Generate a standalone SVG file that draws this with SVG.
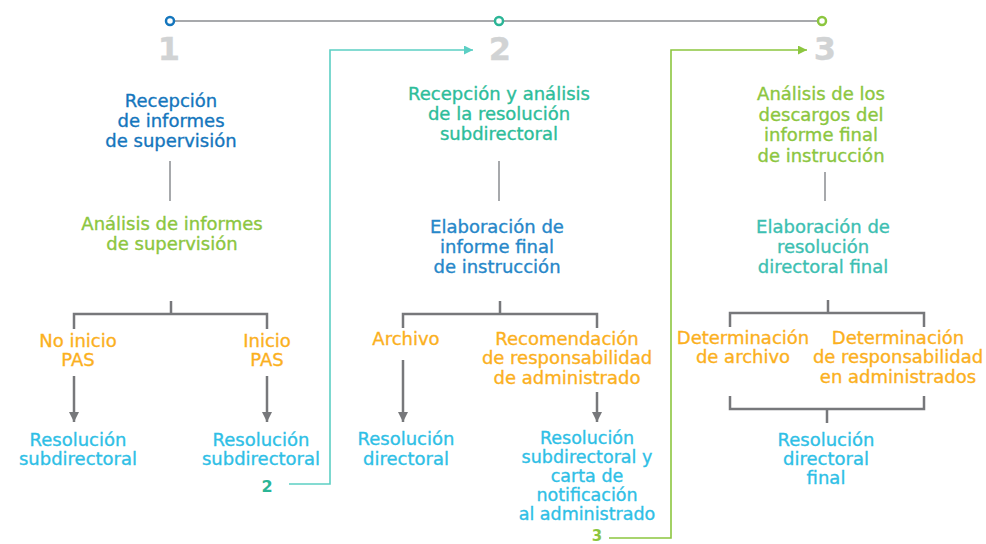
<svg xmlns="http://www.w3.org/2000/svg" width="986" height="544" viewBox="0 0 986 544">
<style>
text{font-family:"DejaVu Sans","Noto Sans",sans-serif;font-size:18px;text-anchor:middle;stroke-width:0.35}
.b1{fill:#1476bd;stroke:#1476bd}.b2{fill:#2787c9;stroke:#2787c9}.tl{fill:#2dbd9a;stroke:#2dbd9a}.t2{fill:#3dbfb2;stroke:#3dbfb2}.gr{fill:#8cc63f;stroke:#8cc63f}.or{fill:#fbb01e;stroke:#fbb01e}.cy{fill:#2fbfe6;stroke:#2fbfe6}
.num{font-size:32px;font-weight:bold;fill:#d1d3d4;stroke:#d1d3d4}
.lab{font-size:16px;font-weight:bold}
.ln{fill:none;stroke:#77787b;stroke-width:2.5}
.thin{fill:none;stroke:#a7a9ac;stroke-width:2}
</style>
<defs>
<marker id="ag" viewBox="0 0 10 10" refX="10" refY="5" markerWidth="10" markerHeight="10" markerUnits="userSpaceOnUse" orient="auto"><path d="M0,0L10,5L0,10z" fill="#77787b"/></marker>
<marker id="at" viewBox="0 0 10 10" refX="10" refY="5" markerWidth="10" markerHeight="9" markerUnits="userSpaceOnUse" orient="auto"><path d="M0,0L10,5L0,10z" fill="#5ccfc4"/></marker>
<marker id="agr" viewBox="0 0 10 10" refX="10" refY="5" markerWidth="10" markerHeight="9" markerUnits="userSpaceOnUse" orient="auto"><path d="M0,0L10,5L0,10z" fill="#8cc63f"/></marker>
</defs>

<g id="timeline">
<line x1="170" y1="21" x2="822" y2="21" stroke="#a7a9ac" stroke-width="2"/>
<circle cx="170" cy="21" r="4" fill="#fff" stroke="#1476bd" stroke-width="2.5"/>
<circle cx="499" cy="21" r="4" fill="#fff" stroke="#2bb596" stroke-width="2.5"/>
<circle cx="822" cy="21" r="4" fill="#fff" stroke="#8cc63f" stroke-width="2.5"/>
<text class="num" x="169" y="60">1</text>
<text class="num" x="500" y="60">2</text>
<text class="num" x="825" y="60">3</text>
</g>

<g id="connectors">
<line class="thin" x1="170" y1="161" x2="170" y2="201"/>
<path class="ln" d="M171,301V314M74,329V314H267V329"/>
<line class="ln" x1="74" y1="376" x2="74" y2="422" marker-end="url(#ag)"/>
<line class="ln" x1="267" y1="376" x2="267" y2="422" marker-end="url(#ag)"/>
<path d="M289,484H330V50H473" fill="none" stroke="#5ccfc4" stroke-width="1.6" marker-end="url(#at)"/>

<line class="thin" x1="499" y1="161" x2="499" y2="201"/>
<path class="ln" d="M500,301V314M403,328V314H597V328"/>
<line class="ln" x1="403" y1="360" x2="403" y2="422" marker-end="url(#ag)"/>
<line class="ln" x1="597" y1="392" x2="597" y2="422" marker-end="url(#ag)"/>
<path d="M609,538H671V50H807" fill="none" stroke="#8cc63f" stroke-width="1.6" marker-end="url(#agr)"/>

<line class="thin" x1="825" y1="172" x2="825" y2="201"/>
<path class="ln" d="M828,300V313M730,327V313H924V327"/>
<path class="ln" d="M730,396V409H924V396M827,409V423"/>
</g>

<g id="n-recepcion-informes"><text class="b1" x="171"><tspan x="171" y="107">Recepción</tspan><tspan x="171" y="127">de informes</tspan><tspan x="171" y="147">de supervisión</tspan></text></g>
<g id="n-analisis-informes"><text class="gr" x="172"><tspan x="172" y="230">Análisis de informes</tspan><tspan x="172" y="250">de supervisión</tspan></text></g>
<g id="n-no-inicio"><text class="or" x="78"><tspan x="78" y="347">No inicio</tspan><tspan x="78" y="366">PAS</tspan></text></g>
<g id="n-inicio"><text class="or" x="267"><tspan x="267" y="347">Inicio</tspan><tspan x="267" y="366">PAS</tspan></text></g>
<g id="n-res-sub-1"><text class="cy" x="78"><tspan x="78" y="446">Resolución</tspan><tspan x="78" y="465">subdirectoral</tspan></text></g>
<g id="n-res-sub-2"><text class="cy" x="261"><tspan x="261" y="446">Resolución</tspan><tspan x="261" y="465">subdirectoral</tspan></text></g>
<g id="lab-2"><text class="lab" x="267" y="492" fill="#2bb596">2</text></g>

<g id="n-recepcion-analisis"><text class="tl" x="499"><tspan x="499" y="100">Recepción y análisis</tspan><tspan x="499" y="120">de la resolución</tspan><tspan x="499" y="140">subdirectoral</tspan></text></g>
<g id="n-elab-informe"><text class="b2" x="497"><tspan x="497" y="233">Elaboración de</tspan><tspan x="497" y="253">informe final</tspan><tspan x="497" y="273">de instrucción</tspan></text></g>
<g id="n-archivo"><text class="or" x="406" y="345">Archivo</text></g>
<g id="n-recomendacion"><text class="or" x="567"><tspan x="567" y="345">Recomendación</tspan><tspan x="567" y="364">de responsabilidad</tspan><tspan x="567" y="384">de administrado</tspan></text></g>
<g id="n-res-dir"><text class="cy" x="406"><tspan x="406" y="445">Resolución</tspan><tspan x="406" y="465">directoral</tspan></text></g>
<g id="n-res-sub-carta"><text class="cy" x="587" style="font-size:17.5px"><tspan x="587" y="444">Resolución</tspan><tspan x="587" y="463">subdirectoral y</tspan><tspan x="587" y="482">carta de</tspan><tspan x="587" y="501">notificación</tspan><tspan x="587" y="520">al administrado</tspan></text></g>
<g id="lab-3"><text class="lab" x="597" y="541" fill="#8cc63f" style="font-size:15px">3</text></g>

<g id="n-analisis-descargos"><text class="gr" x="821"><tspan x="821" y="100">Análisis de los</tspan><tspan x="821" y="121">descargos del</tspan><tspan x="821" y="141">informe final</tspan><tspan x="821" y="162">de instrucción</tspan></text></g>
<g id="n-elab-resolucion"><text class="t2" x="823"><tspan x="823" y="233">Elaboración de</tspan><tspan x="823" y="253">resolución</tspan><tspan x="823" y="273">directoral final</tspan></text></g>
<g id="n-det-archivo"><text class="or" x="743"><tspan x="743" y="344">Determinación</tspan><tspan x="743" y="363">de archivo</tspan></text></g>
<g id="n-det-resp"><text class="or" x="898"><tspan x="898" y="344">Determinación</tspan><tspan x="898" y="363">de responsabilidad</tspan><tspan x="898" y="383">en administrados</tspan></text></g>
<g id="n-res-dir-final"><text class="cy" x="826"><tspan x="826" y="446">Resolución</tspan><tspan x="826" y="465">directoral</tspan><tspan x="826" y="484">final</tspan></text></g>
</svg>
